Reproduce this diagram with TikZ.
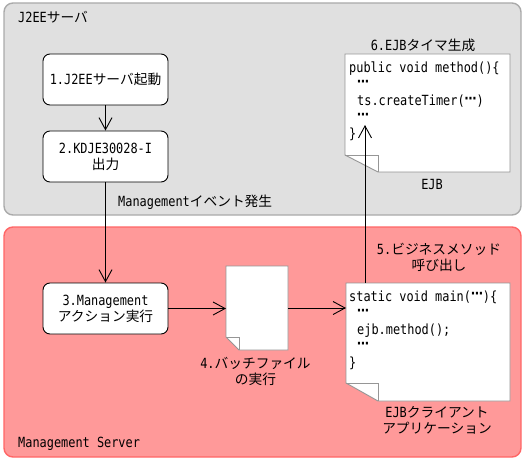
\documentclass[tikz,border=0pt]{standalone}
\usepackage{fontspec}
\setmainfont{DejaVu Sans Mono}[FakeStretch=0.85]
\newfontfamily\jpfont{Noto Sans CJK JP}[Scale=0.98]
\newfontfamily\dotsfont{DejaVu Sans}[FakeStretch=0.85]
\newcommand{\jtext}[1]{{\jpfont #1}}
\newcommand{\mdots}{\raisebox{2.5pt}{\dotsfont\bfseries ⋯}}
\usetikzlibrary{arrows.meta}
\definecolor{grayfill}{RGB}{224,224,224}
\definecolor{grayline}{RGB}{170,170,170}
\definecolor{pinkfill}{RGB}{255,153,153}
\definecolor{pinkline}{RGB}{255,102,102}
\definecolor{docgray}{RGB}{150,150,150}
\tikzset{
  every node/.style={font=\fontsize{14}{16}\selectfont},
  area/.style={line width=1.4pt, rounded corners=9pt},
  box/.style={draw=black, fill=white, rounded corners=7pt, minimum width=125pt, minimum height=51pt, align=center, inner sep=0pt, line width=0.9pt},
  docarea/.style={inner sep=0pt, outer sep=0pt},
  doc/.style={draw=docgray, fill=white, line width=0.9pt},
  arr/.style={-{Straight Barb[length=12pt,width=13pt]}, line width=0.9pt},
  lbl/.style={inner sep=0pt, align=center},
  code/.style={anchor=base west, inner sep=0pt},
}
\begin{document}
\begin{tikzpicture}[x=1pt,y=-1pt]
\useasboundingbox (0,0) rectangle (526,462);
% containers
\path[area, fill=grayfill, draw=grayline] (4,3) rectangle (521,215);
\path[area, fill=pinkfill, draw=pinkline] (4,227) rectangle (521,457);
% document areas
\node[docarea, minimum width=62pt, minimum height=84pt] (batch) at (257,308) {};
\node[docarea, minimum width=164pt, minimum height=118pt] (client) at (428,342) {};
\node[docarea, minimum width=165pt, minimum height=118pt] (ejb) at (427.5,113) {};
% document shapes
\path[doc] (batch.north west) -- (batch.north east) -- (batch.south east) -- ([xshift=13pt]batch.south west) -- ([yshift=13pt]batch.south west) -- cycle;
\draw[docgray, line width=0.9pt] ([yshift=13pt]batch.south west) -- ([xshift=13pt,yshift=13pt]batch.south west) -- ([xshift=13pt]batch.south west);
\path[doc] (client.north west) -- (client.north east) -- (client.south east) -- ([xshift=32pt]client.south west) -- ([yshift=18pt]client.south west) -- cycle;
\draw[docgray, line width=0.9pt] ([yshift=18pt]client.south west) -- ([xshift=32pt,yshift=18pt]client.south west) -- ([xshift=32pt]client.south west);
\path[doc] (ejb.north west) -- (ejb.north east) -- (ejb.south east) -- ([xshift=33pt]ejb.south west) -- ([yshift=17pt]ejb.south west) -- cycle;
\draw[docgray, line width=0.9pt] ([yshift=17pt]ejb.south west) -- ([xshift=33pt,yshift=17pt]ejb.south west) -- ([xshift=33pt]ejb.south west);
% code text
\node[code] (c1) at (349,301) {static void main(\mdots)\{};
\node[code] (c2) at (357,317.5) {\mdots};
\node[code] (c3) at (357,334) {ejb.method();};
\node[code] (c4) at (357,350.5) {\mdots};
\node[code] (c5) at (349,367) {\}};
\node[code] (e1) at (349,73) {public void method()\{};
\node[code] (e2) at (357,89.5) {\mdots};
\node[code] (e3) at (357,106) {ts.createTimer(\mdots)};
\node[code] (e4) at (357,122.5) {\mdots};
\node[code] (e5) at (349,139) {\}};
% process boxes
\node[box] (n1) at (105.5,79.5) {1.J2EE\jtext{サーバ起動}};
\node[box] (n2) at (105.5,156.5) {2.KDJE30028-I\\\jtext{出力}};
\node[box] (n3) at (105.5,308.5) {3.Management\\\jtext{アクション実行}};
% labels
\node[lbl, anchor=west] (tj2ee) at (18,17) {J2EE\jtext{サーバ}};
\node[lbl, anchor=west] (tevt) at (118,202) {Management\jtext{イベント発生}};
\node[lbl] (t6) at (423,45) {6.EJB\jtext{タイマ生成}};
\node[lbl] (tejb) at (432,184) {EJB};
\node[lbl] (t5) at (439,257) {5.\jtext{ビジネスメソッド}\\\jtext{呼び出し}};
\node[lbl] (t4) at (255.5,371) {4.\jtext{バッチファイル}\\\jtext{の実行}};
\node[lbl] (tcl) at (437,420) {EJB\jtext{クライアント}\\\jtext{アプリケーション}};
\node[lbl, anchor=west] (tms) at (18,444) {Management Server};
% connectors
\draw[arr] (n1) -- (n2);
\draw[arr] (n2) -- (n3);
\draw[arr] (n3.east) -- (n3.east -| batch.west);
\draw[arr] (batch.east) -- (batch.east -| client.west);
\coordinate (tip5) at (365,125);
\draw[arr] (tip5 |- client.north) -- (tip5);
\end{tikzpicture}
\end{document}
